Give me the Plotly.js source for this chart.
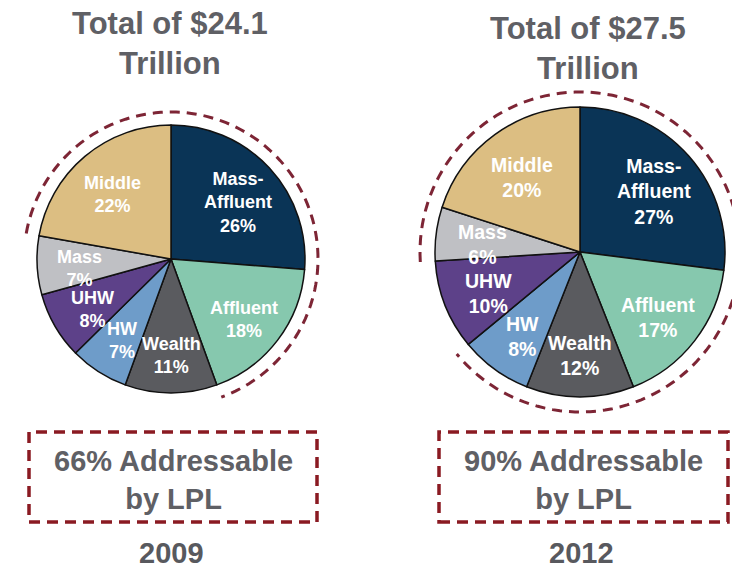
<!DOCTYPE html>
<html>
<head>
<meta charset="utf-8">
<script src="https://cdn.plot.ly/plotly-3.0.1.min.js"></script>
<style>html,body{margin:0;padding:0;background:#fff;}#chart{width:732px;height:571px;}</style>
</head>
<body>
<div id="chart"></div>
<script>
// ---- data ----
const categories = ['Mass-Affluent', 'Affluent', 'Wealth', 'HW', 'UHW', 'Mass', 'Middle'];
const labelNames = ['Mass-<br>Affluent', 'Affluent', 'Wealth', 'HW', 'UHW', 'Mass', 'Middle'];
const values2009 = [26, 18, 11, 7, 8, 7, 22];
const values2012 = [27, 17, 12, 8, 10, 6, 20];
const addressable2009 = ['Middle', 'Mass-Affluent', 'Affluent'];
const addressable2012 = ['Mass', 'Middle', 'Mass-Affluent', 'Affluent', 'Wealth', 'HW'];
const years = ['2009', '2012'];
const totals = ['Total of $24.1<br>Trillion', 'Total of $27.5<br>Trillion'];
const addressableText = ['66% Addressable<br>by LPL', '90% Addressable<br>by LPL'];
const colors = ['#0a3456', '#86c8ae', '#5a5b5f', '#6e9cc9', '#5d4189', '#bfc0c4', '#dcbe82'];

// ---- layout helpers (pixel -> paper) ----
const W = 732, H = 571;
const px = x => x / W;
const py = y => 1 - y / H;

const pies = [
  {values: values2009, addr: addressable2009, cx: 171, cy: 259, r: 134, arcR: 147, fs: 18,
   titleX: 170, titleY: 44, boxX0: 29, boxX1: 317, textX: 173, yearX: 171},
  {values: values2012, addr: addressable2012, cx: 580, cy: 252, r: 145, arcR: 160, fs: 19.5,
   titleX: 588, titleY: 48, boxX0: 439, boxX1: 728, textX: 583, yearX: 581}
];

const traces = [];
const annotations = [];
const shapes = [];
const FONT = 'Liberation Sans, Arial, sans-serif';
const GREY = '#5f6065';
const MAROON = '#8a1a22';

pies.forEach((p, k) => {
  traces.push({
    type: 'pie',
    labels: categories,
    values: p.values,
    sort: false,
    direction: 'clockwise',
    rotation: 0,
    textinfo: 'none',
    hoverinfo: 'label+percent',
    showlegend: false,
    marker: {colors: colors, line: {color: '#111111', width: 1.5}},
    domain: {x: [px(p.cx - p.r), px(p.cx + p.r)], y: [py(p.cy + p.r), py(p.cy - p.r)]}
  });

  const total = p.values.reduce((a, b) => a + b, 0);
  // slice labels at slice mid-angle
  let cum = 0;
  p.values.forEach((v, i) => {
    const mid = (cum + v / 2) / total * 2 * Math.PI;
    cum += v;
    const rr = p.r * 0.68;
    annotations.push({
      xref: 'paper', yref: 'paper', showarrow: false,
      x: px(p.cx + rr * Math.sin(mid)), y: py(p.cy - rr * Math.cos(mid) + 5),
      xanchor: 'center', yanchor: 'middle',
      text: '<b>' + labelNames[i] + '<br>' + v + '%</b>',
      font: {family: FONT, size: p.fs, color: '#ffffff'}
    });
  });

  // dashed arc around addressable slices
  const n = categories.length;
  let startIdx = 0;
  for (let i = 0; i < n; i++) {
    const prev = (i - 1 + n) % n;
    if (p.addr.includes(categories[i]) && !p.addr.includes(categories[prev])) { startIdx = i; break; }
  }
  let startCum = 0;
  for (let i = 0; i < startIdx; i++) startCum += p.values[i];
  let addrSum = 0;
  categories.forEach((c, i) => { if (p.addr.includes(c)) addrSum += p.values[i]; });
  const a0 = startCum / total * 2 * Math.PI;
  const a1 = a0 + addrSum / total * 2 * Math.PI;
  const steps = 120;
  let path = '';
  for (let s = 0; s <= steps; s++) {
    const a = a0 + (a1 - a0) * s / steps;
    const x = px(p.cx + p.arcR * Math.sin(a));
    const y = py(p.cy - p.arcR * Math.cos(a));
    path += (s === 0 ? 'M' : ' L') + x.toFixed(5) + ',' + y.toFixed(5);
  }
  shapes.push({type: 'path', xref: 'paper', yref: 'paper', path: path,
    line: {color: '#7d2535', width: 3, dash: '10px,7px'}});

  // title
  annotations.push({
    xref: 'paper', yref: 'paper', showarrow: false,
    x: px(p.titleX), y: py(p.titleY), xanchor: 'center', yanchor: 'middle',
    text: '<b>' + totals[k] + '</b>',
    font: {family: FONT, size: 31, color: GREY}
  });

  // dashed box
  shapes.push({type: 'rect', xref: 'paper', yref: 'paper',
    x0: px(p.boxX0), x1: px(p.boxX1), y0: py(522), y1: py(432),
    line: {color: MAROON, width: 3.5, dash: '11px,7px'}});
  annotations.push({
    xref: 'paper', yref: 'paper', showarrow: false,
    x: px(p.textX), y: py(480), xanchor: 'center', yanchor: 'middle',
    text: '<b>' + addressableText[k] + '</b>',
    font: {family: FONT, size: 29, color: GREY}
  });

  // year
  annotations.push({
    xref: 'paper', yref: 'paper', showarrow: false,
    x: px(p.yearX), y: py(553), xanchor: 'center', yanchor: 'middle',
    borderpad: 0,
    text: '<b>' + years[k] + '</b>',
    font: {family: FONT, size: 29, color: '#58595e'}
  });
});

const layout = {
  width: W, height: H,
  margin: {l: 0, r: 0, t: 0, b: 0},
  paper_bgcolor: '#ffffff',
  showlegend: false,
  annotations: annotations,
  shapes: shapes
};

Plotly.newPlot('chart', traces, layout, {displayModeBar: false, staticPlot: true});
</script>
</body>
</html>
